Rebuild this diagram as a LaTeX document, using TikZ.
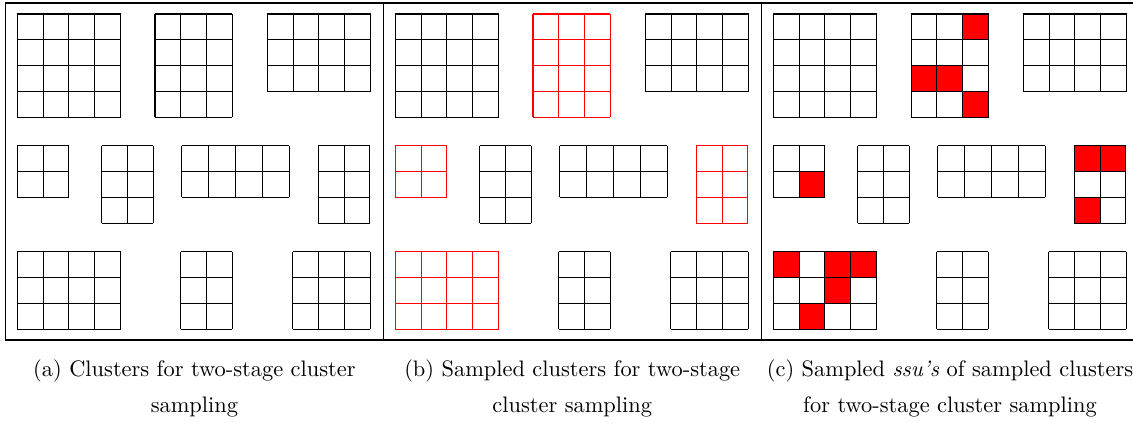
\documentclass[tikz,border=0pt]{standalone}
\usepackage{amsmath, amssymb}
\usepackage{tikz}
\usepackage{xcolor}

% clusters of one panel: left/top/columns/rows/cell width/sampled
\newcommand{\clusterlist}{%
  17.3/14/4/4/25.8/0, 155/14/3/4/25.8/1, 267.3/14/4/3/25.8/0,
  17.3/145.7/2/2/25.8/1, 101.7/145.7/2/3/25.8/0, 181.7/145.7/4/2/26.9/0,
  318.3/145.7/2/3/25.8/1,
  17.3/251.7/4/3/25.8/1, 180.7/251.7/2/3/25.8/0, 292.7/251.7/3/3/25.8/0}

\begin{document}
\begin{tikzpicture}[x=0.4464pt, y=-0.4464pt, line width=0.45pt,
    panel/.style={draw=black, line width=0.5pt},
    ssu/.style={fill=red, draw=black},
    caption/.style={anchor=base, align=center, font=\normalsize}]
  \useasboundingbox (0,0) rectangle (1133,423);
  \clip (0,0) rectangle (1133,423);

  % the three framed panels
  \foreach \off in {0, 377.8, 755.6}
    \draw[panel] (5.5+\off,3) rectangle (383.3+\off,340);

  % cluster grids, sampled clusters red in the middle panel
  \foreach \off/\p in {0/0, 378/1, 756/0}
    \foreach \cx/\cy/\nc/\nr/\cw/\s in \clusterlist {
      \ifnum\s\p=11 \def\gc{red}\else\def\gc{black}\fi
      \foreach \i in {0,...,\nc}
        \draw[\gc] (\off+\cx+\i*\cw, \cy) -- ++(0, \nr*25.8);
      \foreach \j in {0,...,\nr}
        \draw[\gc] (\off+\cx, \cy+\j*25.8) -- ++(\nc*\cw, 0);
    }

  % sampled ssu's in the right panel: cluster left/top, column/row
  \foreach \cx/\cy/\i/\j in {155/14/3/1, 155/14/1/3, 155/14/2/3, 155/14/3/4,
      17.3/145.7/2/2,
      318.3/145.7/1/1, 318.3/145.7/2/1, 318.3/145.7/1/3,
      17.3/251.7/1/1, 17.3/251.7/3/1, 17.3/251.7/4/1, 17.3/251.7/3/2, 17.3/251.7/2/3}
    \draw[ssu] (756+\cx+\i*25.8-25.8, \cy+\j*25.8-25.8) rectangle ++(25.8,25.8);

  % captions (base anchor sits on the last line)
  \node[caption] (capa) at (194.4,412.7) {(a) Clusters for two-stage cluster\\[4pt] sampling};
  \node[caption] (capb) at (572.2,412.7) {(b) Sampled clusters for two-stage\\[4pt] cluster sampling};
  \node[caption] (capc) at (950,412.7) {(c) Sampled \emph{ssu's} of sampled clusters\\[4pt] for two-stage cluster sampling};
\end{tikzpicture}
\end{document}
